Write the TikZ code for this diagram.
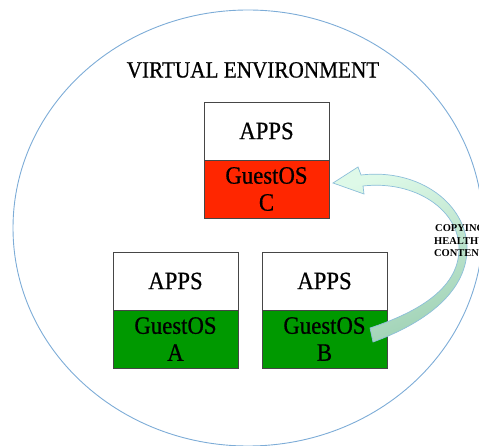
\documentclass[tikz,border=0pt]{standalone}
\usepackage{fontspec}
\setmainfont{Liberation Serif}
\newfontfamily\boxfont[FakeStretch=0.91,FakeBold=0.6]{Liberation Serif}
\usetikzlibrary{shadows}
\definecolor{envblue}{RGB}{125,172,215}
\definecolor{boxgray}{RGB}{70,70,70}
\definecolor{osred}{HTML}{FF2600}
\definecolor{osgreen}{HTML}{009900}
\definecolor{arrowlight}{RGB}{222,249,232}
\definecolor{arrowdark}{RGB}{160,210,182}
\definecolor{arrowedge}{RGB}{140,190,218}
\begin{document}
\begin{tikzpicture}[x=1pt,y=-1pt,
  env/.style={draw=envblue, line width=0.9pt},
  vmbox/.style={draw=boxgray, line width=0.8pt, minimum width=125pt, minimum height=58pt,
    inner sep=0pt, align=center, font=\boxfont\fontsize{25}{27}\selectfont,
    drop shadow={shadow xshift=1.2pt, shadow yshift=-1.2pt, opacity=0.25, fill=black}},
  appsbox/.style={vmbox, fill=white},
  osredbox/.style={vmbox, fill=osred},
  osgreenbox/.style={vmbox, fill=osgreen},
  titletext/.style={font=\boxfont\fontsize{23.3}{25}\selectfont},
  copytext/.style={font=\bfseries\fontsize{10.5}{12.5}\selectfont, align=center},
  copyarrow/.style={draw=arrowedge, line width=0.7pt, top color=arrowlight, bottom color=arrowdark, shading angle=20}
]
\useasboundingbox (0,0) rectangle (479,446);
% environment ellipse
\draw[env] (248,228) ellipse [x radius=235, y radius=218];
% title
\node[titletext] (title) at (253,70) {VIRTUAL ENVIRONMENT};
% VM C
\node[appsbox] (appsC) at (266.5,131) {APPS};
\node[osredbox] (osC) at (266.5,189) {GuestOS\\C};
% VM A
\node[appsbox] (appsA) at (175.5,281) {APPS};
\node[osgreenbox] (osA) at (175.5,339) {GuestOS\\A};
% VM B
\node[appsbox] (appsB) at (324.5,281) {APPS};
\node[osgreenbox] (osB) at (324.5,339) {GuestOS\\B};
% curved copy arrow from B to C
\coordinate (tip) at (333,183);
\path[copyarrow] (tip) -- (358,167) -- (361,175)
  .. controls (420,168) and (468,205) .. (467,250)
  .. controls (466,295) and (420,325) .. (373,342)
  -- (370,328)
  .. controls (415,313) and (458,290) .. (459,250)
  .. controls (460,210) and (415,180) .. (363,186)
  -- (364,194) -- cycle;
% label
\node[copytext] (copy) at (460,241) {COPYING\\HEALTHY\\CONTENT};
\end{tikzpicture}
\end{document}
